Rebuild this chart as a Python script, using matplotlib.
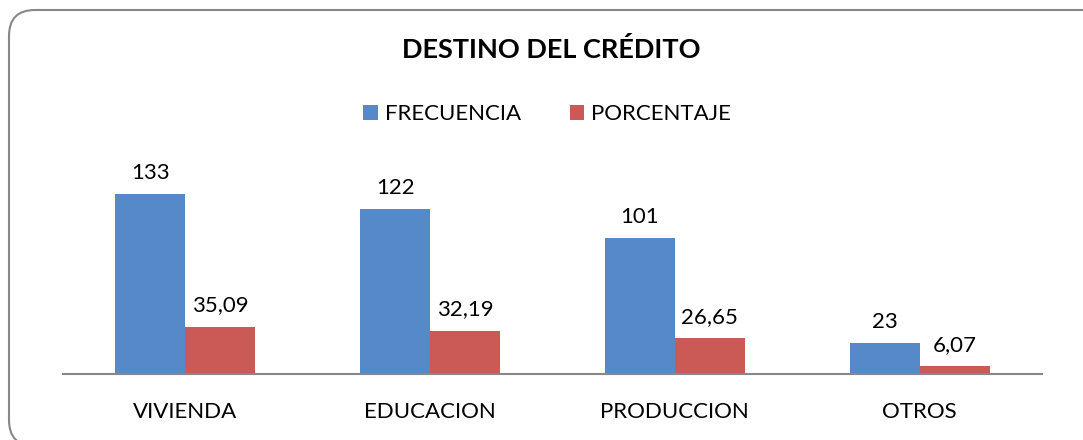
import matplotlib.pyplot as plt
import numpy as np
from matplotlib.patches import FancyBboxPatch

categorias = ["VIVIENDA", "EDUCACION", "PRODUCCION", "OTROS"]
frecuencia = [133, 122, 101, 23]
porcentaje = [35.09, 32.19, 26.65, 6.07]
etiq_frec = ["133", "122", "101", "23"]
etiq_porc = ["35,09", "32,19", "26,65", "6,07"]

plt.rcParams['font.family'] = ['Lato', 'DejaVu Sans']

W, H = 1083, 440
fig = plt.figure(figsize=(W / 100, H / 100), dpi=100)

# rounded frame around the chart (runs off the right and bottom edges)
marco = FancyBboxPatch((9 / W, -6 / H), 1100 / W, 436 / H,
                       boxstyle="round,pad=0,rounding_size=0.024",
                       transform=fig.transFigure, facecolor="none",
                       edgecolor="#888888", linewidth=1.5,
                       mutation_aspect=W / H, zorder=-1)
fig.patches.append(marco)

ax = fig.add_axes([63 / W, 66 / H, 979 / W, 189 / H])
ax.set_facecolor("none")

x = np.arange(len(categorias))
w = 0.286
b1 = ax.bar(x - w / 2, frecuencia, w, color="#5689c8", label="FRECUENCIA")
b2 = ax.bar(x + w / 2, porcentaje, w, color="#cb5a56", label="PORCENTAJE")

for rect, t in zip(b1, etiq_frec):
    ax.annotate(t, (rect.get_x() + rect.get_width() / 2, rect.get_height()),
                xytext=(0, 8), textcoords="offset points",
                ha="center", va="bottom", fontsize=16)
for rect, t in zip(b2, etiq_porc):
    ax.annotate(t, (rect.get_x() + rect.get_width() / 2, rect.get_height()),
                xytext=(0, 8), textcoords="offset points",
                ha="center", va="bottom", fontsize=16)

ax.set_xlim(-0.5, 3.5)
ax.set_ylim(0, 140)
ax.set_xticks(x)
ax.set_xticklabels(categorias, fontsize=16)
ax.tick_params(axis="x", length=0, pad=20)
ax.set_yticks([])
for s in ["top", "right", "left"]:
    ax.spines[s].set_visible(False)
ax.spines["bottom"].set_color("#888888")
ax.spines["bottom"].set_linewidth(1.5)

fig.text(551 / W, 1 - 50 / H, "DESTINO DEL CRÉDITO", ha="center", va="center",
         fontsize=19.5, fontweight="bold")
fig.legend(loc="center", bbox_to_anchor=(547 / W, 1 - 114 / H), ncol=2,
           frameon=False, fontsize=16, handlelength=0.65, handleheight=0.65,
           columnspacing=2.2, handletextpad=0.3)

fig.savefig("out.png", dpi=100)
